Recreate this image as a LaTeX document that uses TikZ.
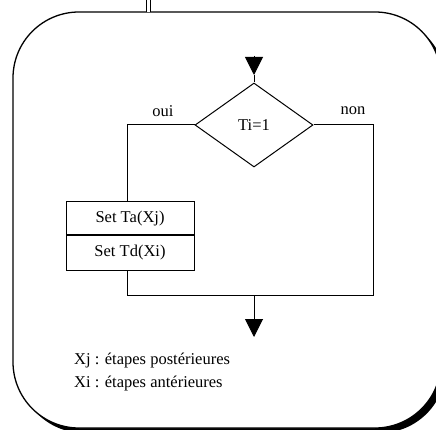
\documentclass[tikz,border=0pt]{standalone}
\usepackage{fontspec}
\setmainfont{Liberation Serif}
\usetikzlibrary{shapes.geometric,arrows.meta}
\tikzset{
  flow/.style={line width=1pt},
  arr/.style={flow,-{Triangle[length=18pt,width=18pt]}},
  stepbox/.style={draw,line width=1pt,minimum width=128pt,inner sep=0pt},
  lbl/.style={inner sep=0pt}
}
\begin{document}
\begin{tikzpicture}[x=1pt,y=-1pt,font=\fontsize{16.5}{20}\selectfont]
\useasboundingbox (0,0) rectangle (436,430);
% shadow and frame
\fill[black,rounded corners=66pt] (18,17) rectangle (446,433);
\draw[line width=1.3pt,fill=white,rounded corners=66pt] (13,12) rectangle (441,428);
% incoming double link
\coordinate (lt) at (148.7,-2);
\coordinate (lb) at (148.7,12);
\draw[double,double distance=3pt,line width=1pt] (lt) -- (lb);
% decision
\node[diamond,draw,line width=1pt,minimum width=118pt,minimum height=84pt,aspect=1.4,inner sep=0pt] (d) at (254,125) {Ti=1};
\coordinate (a1) at (254,56);
\coordinate (a2) at (254,75);
\draw[arr] (a1) -- (a2);
\draw[flow] (a2) -- (d.north);
% boxes
\node[stepbox,minimum height=33pt] (b1) at (130,218.5) {Set Ta(Xj)};
\node[stepbox,minimum height=34pt,anchor=north] (b2) at (b1.south) {Set Td(Xi)};
\coordinate (b1in) at ([xshift=-3pt]b1.north);
\coordinate (b2out) at ([xshift=-3pt]b2.south);
% branches
\coordinate (r) at (373,295);
\coordinate (j) at (254,295);
\coordinate (out) at (254,337);
\draw[flow] (d.west) -| (b1in);
\draw[flow] (d.east) -| (r) -- (j);
\draw[flow] (b2out) |- (j);
\draw[arr] (j) -- (out);
% labels
\node[lbl] (oui) at (163,111) {oui};
\node[lbl] (non) at (353,111) {non};
\node[lbl,anchor=base west] (n1) at (74,364) {Xj : étapes postérieures};
\node[lbl,anchor=base west] (n2) at (74,387) {Xi : étapes antérieures};
\end{tikzpicture}
\end{document}
